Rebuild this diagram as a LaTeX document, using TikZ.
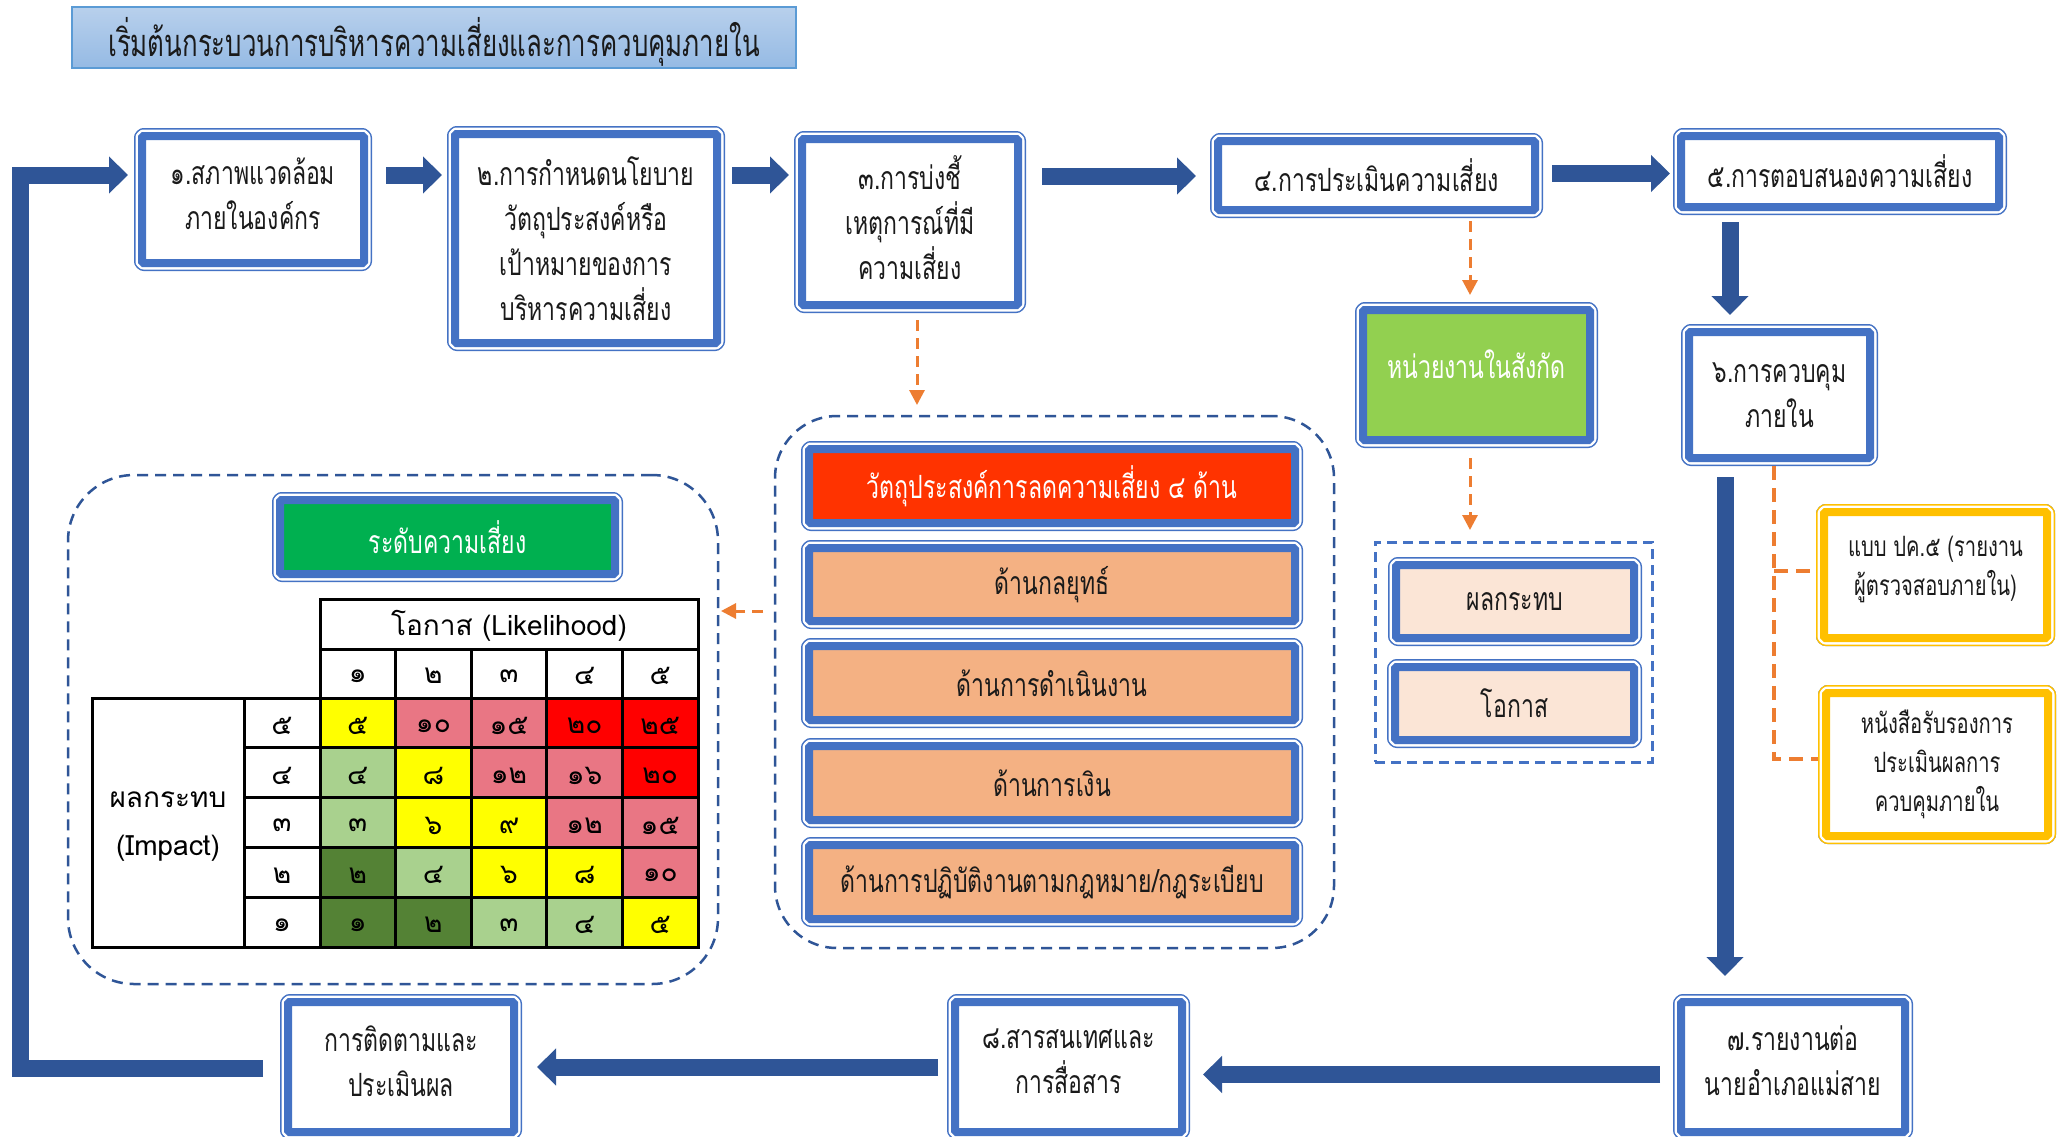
\documentclass[tikz,border=0pt]{standalone}
\usepackage{fontspec}
\newfontfamily\thaic[Script=Thai,FakeStretch=0.72]{Loma}
\newfontfamily\thait[Script=Thai,FakeStretch=0.68]{Loma}
\newfontfamily\thain[Script=Thai]{Loma}
\usetikzlibrary{arrows.meta,calc}
\definecolor{bb}{HTML}{4472C4}
\definecolor{ab}{HTML}{2F5597}
\definecolor{og}{HTML}{ED7D31}
\definecolor{gd}{HTML}{FFC000}
\definecolor{grn}{HTML}{92D050}
\definecolor{lvl}{HTML}{00B050}
\definecolor{rd}{HTML}{FF3300}
\definecolor{sal}{HTML}{F4B183}
\definecolor{pch}{HTML}{FBE5D6}
\definecolor{ttop}{HTML}{B8D0EC}
\definecolor{tbot}{HTML}{95BAE4}
\definecolor{tbrd}{HTML}{5B9BD5}
\definecolor{cY}{HTML}{FFFF00}
\definecolor{cP}{HTML}{E97684}
\definecolor{cR}{HTML}{FF0000}
\definecolor{cL}{HTML}{A9D18E}
\definecolor{cD}{HTML}{548235}
\definecolor{txt}{HTML}{1A1A1A}
\newcommand\bxfont{\thaic\fontsize{32}{45}\selectfont}
\newcommand\ttlfont{\thait\fontsize{38}{44}\selectfont}
\newcommand\glfont{\thaic\fontsize{28}{39}\selectfont}
\newcommand\tdfont{\thain\fontsize{28}{30}\selectfont}
\newcommand\thfont{\thain\fontsize{28}{48}\selectfont}
\newcommand\rkcell[4]{%
  \fill[#3] ({320+75.6*(#1-1)},{698+49.8*(#2-1)}) rectangle ({320+75.6*#1},{698+49.8*#2});
  \node[tdig] (k#1#2) at ({320+75.6*(#1-0.5)},{698+49.8*(#2-0.5)+3}) {#4};}
\begin{document}
\begin{tikzpicture}[x=1pt,y=-1pt,
  bx/.style={draw=bb, line width=8pt, fill=white, rounded corners=1.5pt,
    preaction={draw=bb, line width=16pt, line join=round},
    preaction={draw=white, line width=13pt, line join=round},
    align=center, inner sep=0pt, outer sep=8pt, font=\bxfont, text=txt},
  gbx/.style={bx, draw=gd, preaction={draw=gd, line width=16pt, line join=round},
    preaction={draw=white, line width=13pt, line join=round}, font=\glfont},
  cont/.style={draw=ab, line width=2.5pt, dash pattern=on 11pt off 7pt, rounded corners=62pt,
    inner sep=0pt, outer sep=0pt},
  barrow/.style={draw=ab, line width=17pt, line join=miter,
    -{Triangle[length=19pt,width=36pt]}},
  oarrow/.style={draw=og, line width=3pt, dash pattern=on 11pt off 7pt,
    -{Triangle[length=15pt,width=15pt]}},
  oline/.style={draw=og, line width=4.5pt, dash pattern=on 14pt off 8pt},
  tdig/.style={font=\tdfont, inner sep=0pt, text=black},
  tline/.style={draw=black, line width=3pt, line cap=rect}
]
\useasboundingbox (0,0) rectangle (2062,1136);
\fill[white] (0,0) rectangle (2062,1136);

% title
\node[draw=tbrd, line width=1.5pt, top color=ttop, bottom color=tbot,
  minimum width=724pt, minimum height=61pt, inner sep=0pt] (tbox) at (434,37.5) {};
\node[font=\ttlfont, text=txt, inner sep=0pt] (title) at (434,42) {เริ่มต้นกระบวนการบริหารความเสี่ยงและการควบคุมภายใน};

% main boxes
\node[bx, minimum width=222pt, minimum height=127pt] (b1) at (253,199.5) {๑.สภาพแวดล้อม\\ภายในองค์กร\\[-33pt]};
\node[bx, minimum width=262pt, minimum height=209pt] (b2) at (586,238.5) {๒.การกำหนดนโยบาย\\วัตถุประสงค์หรือ\\เป้าหมายของการ\\บริหารความเสี่ยง};
\node[bx, minimum width=216pt, minimum height=166pt] (b3) at (910,222) {๓.การบ่งชี้\\เหตุการณ์ที่มี\\ความเสี่ยง\\[-36pt]};
\node[bx, minimum width=317pt, minimum height=69pt] (b4) at (1376.5,175.5) {๔.การประเมินความเสี่ยง};
\node[bx, minimum width=318pt, minimum height=71pt] (b5) at (1840,171.5) {๕.การตอบสนองความเสี่ยง};
\node[bx, fill=grn, text=white, minimum width=227pt, minimum height=130pt] (gr) at (1476.5,375) {หน่วยงานในสังกัด\\[-23pt]};
\node[bx, minimum width=181pt, minimum height=126pt] (b6) at (1779.5,395) {๖.การควบคุม\\ภายใน};
\node[bx, minimum width=224pt, minimum height=130pt] (b7) at (1793,1067) {๗.รายงานต่อ\\นายอำเภอแม่สาย\\[-33pt]};
\node[bx, minimum width=227pt, minimum height=130pt] (b8) at (1068.5,1067) {๘.สารสนเทศและ\\การสื่อสาร\\[-33pt]};
\node[bx, minimum width=226pt, minimum height=130pt] (b9) at (401,1067) {การติดตามและ\\ประเมินผล\\[-33pt]};

% gold boxes
\node[gbx, minimum width=223pt, minimum height=126pt] (g1) at (1935.5,575) {แบบ ปค.๕ (รายงาน\\ผู้ตรวจสอบภายใน)\\[-21pt]};
\node[gbx, minimum width=222pt, minimum height=143pt] (g2) at (1937,764.5) {หนังสือรับรองการ\\ประเมินผลการ\\ควบคุมภายใน};

% objectives container
\node[cont, minimum width=559pt, minimum height=532pt] (objc) at (1054.5,682) {};
\node[bx, fill=rd, text=white, minimum width=486pt, minimum height=74pt] (o0) at (1052,486) {วัตถุประสงค์การลดความเสี่ยง ๔ ด้าน};
\node[bx, fill=sal, minimum width=486pt, minimum height=73pt] (o1) at (1052,584.5) {ด้านกลยุทธ์};
\node[bx, fill=sal, minimum width=486pt, minimum height=74pt] (o2) at (1052,683) {ด้านการดำเนินงาน};
\node[bx, fill=sal, minimum width=486pt, minimum height=74pt] (o3) at (1052,783) {ด้านการเงิน};
\node[bx, fill=sal, minimum width=486pt, minimum height=74pt] (o4) at (1052,882) {ด้านการปฏิบัติงานตามกฎหมาย/กฎระเบียบ};

% impact / likelihood container
\node[draw=bb, line width=3pt, dash pattern=on 10pt off 6pt, minimum width=277pt, minimum height=220pt,
  inner sep=0pt, outer sep=0pt] (ic) at (1513.5,652) {};
\node[bx, fill=pch, minimum width=238pt, minimum height=73pt] (p1) at (1515,601.5) {ผลกระทบ};
\node[bx, fill=pch, minimum width=239pt, minimum height=73pt] (p2) at (1514.5,703.5) {โอกาส};

% risk table container
\node[cont, rounded corners=66pt, minimum width=650pt, minimum height=509pt] (tc) at (393,729.5) {};
\node[bx, fill=lvl, text=white, minimum width=335pt, minimum height=74pt] (lv) at (447.5,537) {ระดับความเสี่ยง};

% table cells
\rkcell{1}{1}{cY}{๕}\rkcell{2}{1}{cP}{๑๐}\rkcell{3}{1}{cP}{๑๕}\rkcell{4}{1}{cR}{๒๐}\rkcell{5}{1}{cR}{๒๕}
\rkcell{1}{2}{cL}{๔}\rkcell{2}{2}{cY}{๘}\rkcell{3}{2}{cP}{๑๒}\rkcell{4}{2}{cP}{๑๖}\rkcell{5}{2}{cR}{๒๐}
\rkcell{1}{3}{cL}{๓}\rkcell{2}{3}{cY}{๖}\rkcell{3}{3}{cY}{๙}\rkcell{4}{3}{cP}{๑๒}\rkcell{5}{3}{cP}{๑๕}
\rkcell{1}{4}{cD}{๒}\rkcell{2}{4}{cL}{๔}\rkcell{3}{4}{cY}{๖}\rkcell{4}{4}{cY}{๘}\rkcell{5}{4}{cP}{๑๐}
\rkcell{1}{5}{cD}{๑}\rkcell{2}{5}{cD}{๒}\rkcell{3}{5}{cL}{๓}\rkcell{4}{5}{cL}{๔}\rkcell{5}{5}{cY}{๕}
\foreach \d [count=\i] in {๑,๒,๓,๔,๕} {
  \node[tdig] (h\i) at ({320+75.6*(\i-0.5)},676) {\d};
}
\foreach \d [count=\j] in {๕,๔,๓,๒,๑} {
  \node[tdig] (r\j) at (282,{698+49.8*(\j-0.5)+3}) {\d};
}
\node[font=\thfont, inner sep=0pt] (lk) at (509,626) {โอกาส (Likelihood)};
\node[font=\thfont, align=center, inner sep=0pt] (im) at (168,827) {ผลกระทบ\\(Impact)};
\draw[tline] (320,599) rectangle (698,947);
\draw[tline] (92,698) rectangle (698,947);
\draw[tline] (320,649) -- (698,649);
\draw[tline] (244,698) -- (244,947);
\foreach \i in {1,...,4} {
  \draw[tline] ({320+75.6*\i},649) -- ({320+75.6*\i},947);
  \draw[tline] (244,{698+49.8*\i}) -- (698,{698+49.8*\i});
}

% block arrows
\draw[barrow] ($(b1.east)+(14,-24.5)$) -- ($(b2.west)+(-5,-63.5)$);
\draw[barrow] ($(b2.east)+(7,-63.5)$) -- ($(b3.west)+(-5,-47)$);
\draw[barrow] ($(b3.east)+(16,-46)$) -- ($(b4.west)+(-14,0.5)$);
\draw[barrow] ($(b4.east)+(9,-2)$) -- ($(b5.west)+(-3,2)$);
\draw[barrow] ($(b5.south)+(-110,7)$) -- ($(b6.north)+(-49.5,-9)$);
\draw[barrow] ($(b6.south)+(-54.5,11)$) -- ($(b7.north)+(-68,-18)$);
\draw[barrow] ($(b7.west)+(-13,7.5)$) -- ($(b8.east)+(13,7.5)$);
\draw[barrow] ($(b8.west)+(-9,0)$) -- ($(b9.east)+(15,0)$);
\draw[barrow] ($(b9.west)+(-17,1)$) -| ($(b1.west)+(-113.5,-24.5)$) -- ($(b1.west)+(-6,-24.5)$);

% orange dashed arrows
\draw[oarrow] ($(b3.south)+(7,7)$) -- ($(objc.north)+(-137.5,-11)$);
\draw[oarrow] ($(b4.south)+(93.5,3)$) -- ($(gr.north)+(-6.5,-7)$);
\draw[oarrow] ($(gr.south)+(-6.5,10)$) -- ($(ic.north)+(-43.5,-12)$);
\draw[oarrow] ($(objc.west)+(-12,-71)$) -- ($(tc.east)+(3,-118.5)$);
\coordinate (jn) at ($(b6.south)+(-5.5,105)$);
\draw[oline] ($(b6.south)+(-5.5,0)$) |- ($(g2.west)+(0,-5.5)$);
\draw[oline] (jn) -- ($(g1.west)+(0,-4)$);
\end{tikzpicture}
\end{document}
